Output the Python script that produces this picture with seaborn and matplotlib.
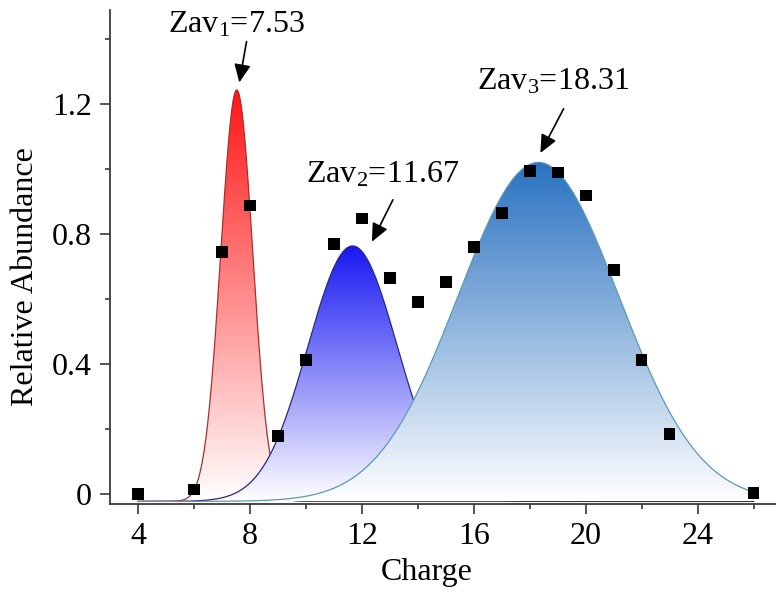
import numpy as np
import matplotlib
matplotlib.use("Agg")
import matplotlib.pyplot as plt
import seaborn as sns
from matplotlib.path import Path
from matplotlib.patches import PathPatch
from matplotlib.colors import to_rgb

# Measured charge-state distribution
charge = [4, 6, 7, 8, 9, 10, 11, 12, 13, 14, 15, 16, 17, 18, 19, 20, 21, 22, 23, 26]
abundance = [0.0, 0.015, 0.746, 0.889, 0.179, 0.413, 0.770, 0.849, 0.665, 0.592,
             0.654, 0.760, 0.865, 0.995, 0.990, 0.919, 0.690, 0.413, 0.186, 0.003]

# Gaussian components: average charge (centre), peak height and width
zav_centres = [7.53, 11.67, 18.31]
peak_heights = [1.244, 0.764, 1.021]
peak_sigmas = [0.57, 1.60, 2.87]
fit_baseline = -0.022

fill_top_colors = ["#ff1616", "#1717f2", "#2a72c0"]
edge_colors = ["#a83030", "#2a2a7a", "#5a9ab5"]

x_ticks = [4, 8, 12, 16, 20, 24]
x_minor = [6, 10, 14, 18, 22, 26]
y_ticks = [0, 0.4, 0.8, 1.2]
y_ticklabels = ["0", "0.4", "0.8", "1.2"]
y_minor = [0.2, 0.6, 1.0, 1.4]

sns.set_style("ticks")
plt.rcParams["font.family"] = ["Liberation Serif", "DejaVu Serif"]
plt.rcParams["mathtext.fontset"] = "custom"
plt.rcParams["mathtext.rm"] = "Liberation Serif"
plt.rcParams["mathtext.it"] = "Liberation Serif:italic"
plt.rcParams["text.color"] = "black"
plt.rcParams["axes.labelcolor"] = "black"

fig = plt.figure(figsize=(7.76, 5.92), dpi=100)
ax = fig.add_axes([110 / 776, 88 / 592, 666 / 776, 494 / 592])

xs = np.linspace(4, 26, 1200)
for i, (xc, h, s) in enumerate(zip(zav_centres, peak_heights, peak_sigmas)):
    ys = fit_baseline + (h - fit_baseline) * np.exp(-(xs - xc) ** 2 / (2 * s ** 2))
    # area under the curve, used as a clip region for the vertical gradient
    verts = np.column_stack([np.r_[xs, xs[::-1]],
                             np.r_[ys, np.full_like(xs, fit_baseline)]])
    patch = PathPatch(Path(verts), facecolor="none", edgecolor="none",
                      transform=ax.transData)
    ax.add_patch(patch)
    t = np.linspace(0, 1, 256)[:, None, None]
    top = np.array(to_rgb(fill_top_colors[i]))[None, None, :]
    img = (1 - t) * np.ones((1, 1, 3)) + t * top
    im = ax.imshow(img, extent=[xs[0], xs[-1], fit_baseline, h], origin="lower",
                   aspect="auto", interpolation="bilinear", zorder=2 + 2 * i)
    im.set_clip_path(patch)
    sns.lineplot(x=xs, y=ys, color=edge_colors[i], lw=0.9, ax=ax,
                 estimator=None, sort=False, zorder=3 + 2 * i)

sns.scatterplot(x=charge, y=abundance, marker="s", s=70, color="black",
                edgecolor="none", linewidth=0, zorder=10, ax=ax)

# Labels with arrows pointing at each fitted maximum
label_pos = [(7.50, 1.444), (12.73, 0.982), (18.84, 1.269)]
arrow_start = [(7.88, 1.393), (13.11, 0.906), (19.21, 1.186)]
arrow_tip = [(7.62, 1.267), (12.36, 0.777), (18.38, 1.050)]
for i, xc in enumerate(zav_centres):
    ax.text(*label_pos[i], f"Zav$_{{{i + 1}}}$={xc:.2f}", fontsize=23,
            color="black", ha="center", va="center", zorder=12)
    ax.annotate("", xy=arrow_tip[i], xytext=arrow_start[i],
                arrowprops=dict(arrowstyle="-|>,head_length=1.1,head_width=0.5",
                                mutation_scale=10, lw=1.2, color="black",
                                shrinkA=0, shrinkB=0),
                zorder=12)

ax.set_xlim(3, 26.8)
ax.set_ylim(-0.03, 1.49)
ax.set_xticks(x_ticks)
ax.set_xticks(x_minor, minor=True)
ax.set_yticks(y_ticks)
ax.set_yticklabels(y_ticklabels)
ax.set_yticks(y_minor, minor=True)

for side in ["top", "right"]:
    ax.spines[side].set_visible(False)
for side in ["left", "bottom"]:
    ax.spines[side].set_color("#3a3a3a")
    ax.spines[side].set_linewidth(1.3)

ax.tick_params(which="major", direction="out", length=7, width=1.2,
               color="#3a3a3a", labelsize=23, labelcolor="black", pad=6)
ax.tick_params(which="minor", direction="out", length=3.5, width=1.2,
               color="#3a3a3a")

ax.set_xlabel("Charge", fontsize=23, color="black")
ax.set_ylabel("Relative Abundance", fontsize=23, color="black")
ax.xaxis.set_label_coords(0.476, -0.11)
ax.yaxis.set_label_coords(-0.105, 0.46)
ax.set_facecolor("white")

fig.savefig("out.png", dpi=100, facecolor="white")
